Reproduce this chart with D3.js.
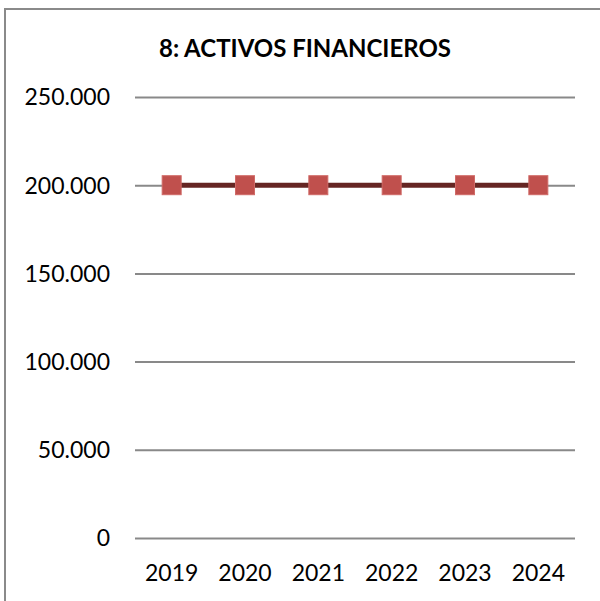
<!DOCTYPE html>
<html>
<head>
<meta charset="utf-8">
<script src="https://cdn.jsdelivr.net/npm/d3@7"></script>
<style>
  body { margin: 0; background: #fff; }
  svg { display: block; font-family: Lato, 'Open Sans', sans-serif; }
</style>
</head>
<body>
<svg id="chart"></svg>
<script>
const YEARS = ['2019', '2020', '2021', '2022', '2023', '2024'];
const VALUES = [200000, 200000, 200000, 200000, 200000, 200000];
const Y_TICKS = [0, 50000, 100000, 150000, 200000, 250000];
const TITLE = '8: ACTIVOS FINANCIEROS';

const WIDTH = 600;
const HEIGHT = 601;
const PLOT = { LEFT: 135, RIGHT: 575, TOP: 97, BOTTOM: 538 };
const FONT = "Lato, 'Open Sans', sans-serif";

const svg = d3.select('#chart').attr('width', WIDTH).attr('height', HEIGHT);

// outer frame (cut off at right/bottom like the source)
svg.append('rect')
  .attr('x', 5).attr('y', 9)
  .attr('width', 620).attr('height', 620)
  .attr('fill', 'none')
  .attr('stroke', '#8a8a8a')
  .attr('stroke-width', 2);

svg.append('text')
  .attr('x', 305).attr('y', 57)
  .attr('text-anchor', 'middle')
  .attr('font-weight', 'bold')
  .attr('font-size', 24)
  .attr('fill', '#000')
  .text(TITLE);

const x = d3.scaleBand(YEARS, [PLOT.LEFT, PLOT.RIGHT]);
const y = d3.scaleLinear([0, 250000], [PLOT.BOTTOM, PLOT.TOP]);

const fmt = (d) => d3.format(',')(d).replace(/,/g, '.');

const yAxis = d3.axisLeft(y)
  .tickValues(Y_TICKS)
  .tickFormat(fmt)
  .tickSize(-(PLOT.RIGHT - PLOT.LEFT))
  .tickPadding(25);

const gy = svg.append('g').attr('transform', `translate(${PLOT.LEFT},0)`).call(yAxis)
  .attr('font-family', FONT);
gy.select('.domain').remove();
gy.selectAll('.tick line').attr('stroke', '#898989').attr('stroke-width', 2);
gy.selectAll('.tick text').attr('font-size', 23).attr('fill', '#000').attr('dy', '0.34em');

const xAxis = d3.axisBottom(x).tickSize(0).tickPadding(27);
const gx = svg.append('g').attr('transform', `translate(0,${PLOT.BOTTOM})`).call(xAxis)
  .attr('font-family', FONT);
gx.select('.domain').remove();
gx.selectAll('.tick text').attr('font-size', 23).attr('fill', '#000');

const data = YEARS.map((yr, i) => ({ year: yr, value: VALUES[i] }));
const cx = (d) => x(d.year) + x.bandwidth() / 2;

svg.append('path')
  .datum(data)
  .attr('fill', 'none')
  .attr('stroke', '#652523')
  .attr('stroke-width', 5)
  .attr('d', d3.line().x(cx).y((d) => y(d.value)));

const S = 19;
svg.selectAll('rect.marker')
  .data(data)
  .join('rect')
  .attr('class', 'marker')
  .attr('x', (d) => cx(d) - S / 2)
  .attr('y', (d) => y(d.value) - S / 2)
  .attr('width', S).attr('height', S)
  .attr('fill', '#c0504d')
  .attr('stroke', '#d06a67')
  .attr('stroke-width', 1);
</script>
</body>
</html>
